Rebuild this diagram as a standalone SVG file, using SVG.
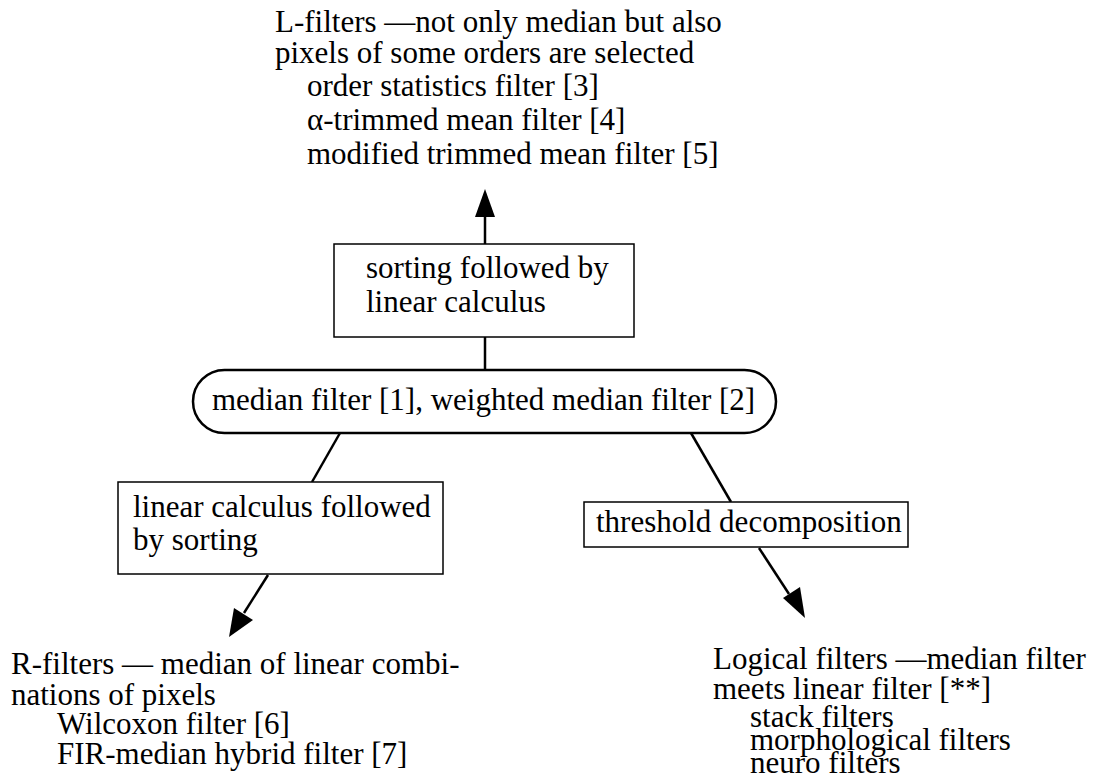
<svg xmlns="http://www.w3.org/2000/svg" width="1103" height="776" viewBox="0 0 1103 776">
<defs>
<style>
text{font-family:"Liberation Serif","Times New Roman",serif;font-size:31px;fill:#000}
.box{fill:#fff;stroke:#000;stroke-width:1.5}
.pill{fill:#fff;stroke:#000;stroke-width:2.5}
.edge{stroke:#000;stroke-width:2.5;fill:none}
.head{fill:#000}
</style>
</defs>
<rect width="1103" height="776" fill="#fff"/>
<g id="connectors">
<line class="edge" x1="485" y1="244" x2="485" y2="214"/>
<polygon class="head" points="485,189 475,217 495,217"/>
<line class="edge" x1="485" y1="337" x2="485" y2="370"/>
<line class="edge" x1="340" y1="433" x2="312" y2="482"/>
<line class="edge" x1="691" y1="433" x2="731" y2="502"/>
<line class="edge" x1="268" y1="575" x2="244" y2="613"/>
<polygon class="head" points="229,637 234,608 253,620"/>
<line class="edge" x1="759" y1="548" x2="789" y2="594"/>
<polygon class="head" points="805,618 783,598 800,587"/>
</g>
<g id="l-filters">
<text x="275" y="32">L-filters —not only median but also</text>
<text x="275" y="63">pixels of some orders are selected</text>
<text x="307" y="96">order statistics filter [3]</text>
<text x="307" y="130">α-trimmed mean filter [4]</text>
<text x="307" y="164">modified trimmed mean filter [5]</text>
</g>
<g id="sorting-box">
<rect class="box" x="334" y="244" width="300" height="93"/>
<text x="366" y="278">sorting followed by</text>
<text x="366" y="312">linear calculus</text>
</g>
<g id="median-pill">
<rect class="pill" x="193" y="370" width="583" height="63" rx="31.5" ry="31.5"/>
<text x="212" y="410">median filter [1], weighted median filter [2]</text>
</g>
<g id="linear-box">
<rect class="box" x="118" y="482" width="325" height="92"/>
<text x="133" y="517">linear calculus followed</text>
<text x="133" y="550">by sorting</text>
</g>
<g id="threshold-box">
<rect class="box" x="584" y="502" width="324" height="45"/>
<text x="596" y="532">threshold decomposition</text>
</g>
<g id="r-filters">
<text x="11" y="674">R-filters — median of linear combi-</text>
<text x="11" y="705">nations of pixels</text>
<text x="57" y="734">Wilcoxon filter [6]</text>
<text x="57" y="764">FIR-median hybrid filter [7]</text>
</g>
<g id="logical-filters">
<text x="713" y="669">Logical filters —median filter</text>
<text x="713" y="699">meets linear filter [**]</text>
<text x="750" y="727">stack filters</text>
<text x="750" y="750">morphological filters</text>
<text x="750" y="773">neuro filters</text>
</g>
</svg>
